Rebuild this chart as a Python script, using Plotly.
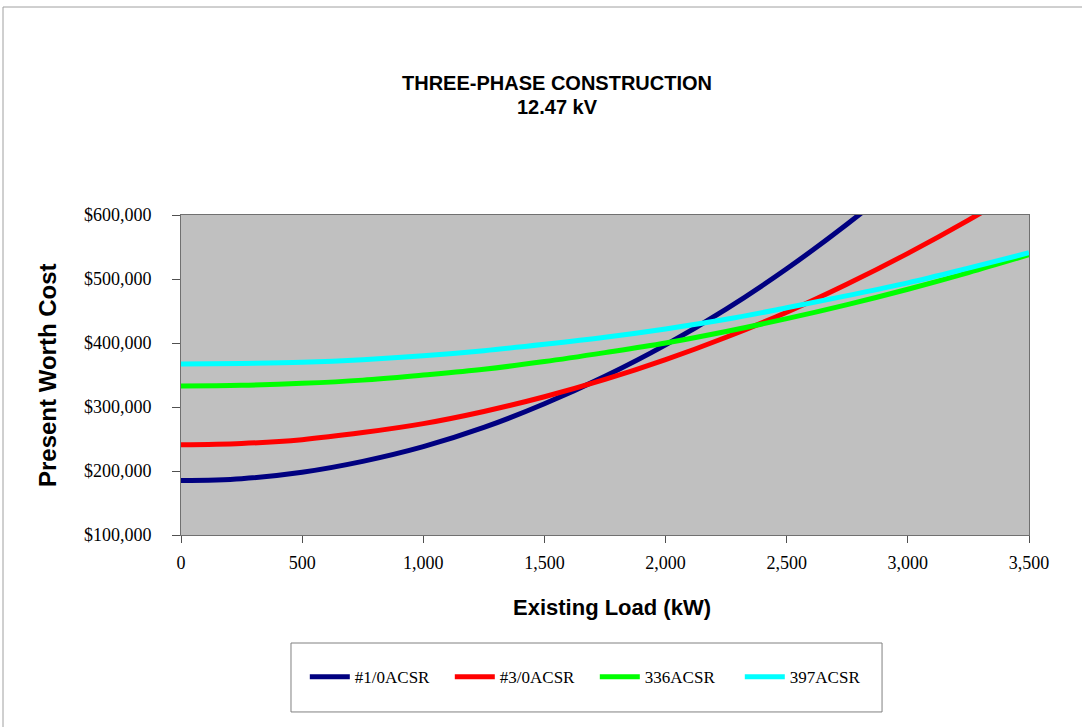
import plotly.graph_objects as go

# Existing load (kW)
load_kw = [0, 250, 500, 750, 1000, 1250, 1500, 1750, 2000, 2250, 2500, 2750, 3000, 3250, 3500]

# Present worth cost ($) for each conductor
cost_1_0 = [185000, 188000, 198000, 215000, 238000, 268000, 305000, 348000, 397000, 453000,
            516000, 586000, 662000, 745000, 834000]
cost_3_0 = [241000, 243000, 249000, 260000, 274000, 293000, 316000, 343000, 374000, 409000,
            448000, 492000, 540000, 592000, 648000]
cost_336 = [333000, 334000, 337000, 342000, 350000, 359000, 371000, 385000, 400000, 418000,
            438000, 460000, 484000, 510000, 538000]
cost_397 = [367000, 368000, 370000, 374000, 380000, 388000, 398000, 409000, 422000, 437000,
            455000, 474000, 494000, 517000, 541000]

series_names = ["#1/0ACSR", "#3/0ACSR", "336ACSR", "397ACSR"]
series_values = [cost_1_0, cost_3_0, cost_336, cost_397]
series_colors = ["#000080", "#FF0000", "#00FF00", "#00FFFF"]

x_ticks = [0, 500, 1000, 1500, 2000, 2500, 3000, 3500]
y_ticks = [100000, 200000, 300000, 400000, 500000, 600000]

fig = go.Figure()
for name, vals, col in zip(series_names, series_values, series_colors):
    fig.add_trace(go.Scatter(
        x=load_kw, y=vals, name=name, mode="lines",
        line=dict(color=col, width=5, shape="spline"),
    ))

serif = "Liberation Serif, Times New Roman, serif"
sans = "Liberation Sans, Arial, sans-serif"

fig.update_layout(
    width=1082, height=727,
    margin=dict(l=181, r=53, t=215, b=192),
    paper_bgcolor="white",
    plot_bgcolor="#C0C0C0",
    showlegend=True,
    legend=dict(
        orientation="h", x=0.146, xanchor="left", y=-0.444, yanchor="middle",
        font=dict(family=serif, size=17, color="black"),
        itemwidth=40, entrywidth=90, bgcolor="rgba(0,0,0,0)",
    ),
    xaxis=dict(
        range=[0, 3500], tickvals=x_ticks, tickformat=",d",
        showgrid=False, zeroline=False,
        showline=True, linecolor="#707070", linewidth=1, mirror=True,
        ticks="outside", ticklen=7, tickcolor="#505050",
        tickfont=dict(family=serif, size=18, color="black"),
        ticklabelstandoff=4,
    ),
    yaxis=dict(
        range=[100000, 600000], tickvals=y_ticks, tickformat="$,d",
        showgrid=False, zeroline=False,
        showline=True, linecolor="#707070", linewidth=1, mirror=True,
        ticks="outside", ticklen=8, tickcolor="#505050",
        tickfont=dict(family=serif, size=18, color="black"),
        ticklabelstandoff=17,
    ),
    shapes=[
        # chart frame
        dict(type="rect", xref="paper", yref="paper", x0=-0.2099, x1=1.2, y0=-0.8, y1=1.65,
             line=dict(color="#A0A0A0", width=1), fillcolor="rgba(0,0,0,0)", layer="below"),
        # legend box
        dict(type="rect", xref="paper", yref="paper", x0=0.1297, x1=0.8267, y0=-0.553, y1=-0.3375,
             line=dict(color="#808080", width=1), fillcolor="rgba(0,0,0,0)"),
    ],
    annotations=[
        dict(text="<b>THREE-PHASE CONSTRUCTION</b>", xref="paper", yref="paper",
             x=0.4434, y=1.4125, xanchor="center", yanchor="middle", showarrow=False,
             font=dict(family=sans, size=20, color="black")),
        dict(text="<b>12.47 kV</b>", xref="paper", yref="paper",
             x=0.4434, y=1.3375, xanchor="center", yanchor="middle", showarrow=False,
             font=dict(family=sans, size=20, color="black")),
        dict(text="<b>Existing Load (kW)</b>", xref="paper", yref="paper",
             x=0.508, y=-0.228, xanchor="center", yanchor="middle", showarrow=False,
             font=dict(family=sans, size=22, color="black")),
        dict(text="<b>Present Worth Cost</b>", xref="paper", yref="paper",
             x=-0.158, y=0.5, xanchor="center", yanchor="middle", showarrow=False,
             textangle=-90, font=dict(family=sans, size=24, color="black")),
    ],
)

fig.write_html("out.html")
